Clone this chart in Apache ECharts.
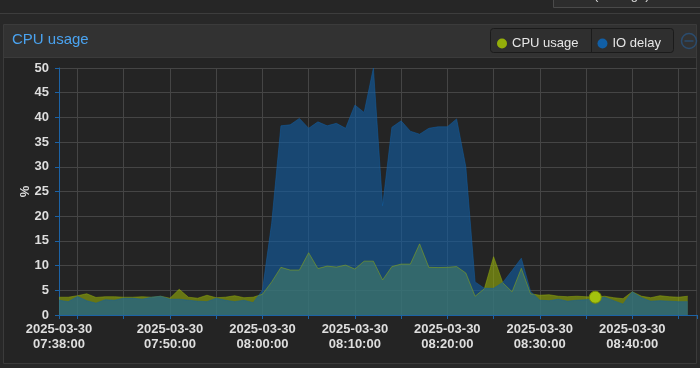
<!DOCTYPE html>
<html><head><meta charset="utf-8">
<script src="https://cdn.jsdelivr.net/npm/echarts@6/dist/echarts.min.js"></script>
<style>html,body{margin:0;padding:0;background:#282828;}#c{width:700px;height:368px;}</style>
</head><body><div id="c"></div>
<script>
const dateLabel = '2025-03-30';
const times = ['07:38','07:39','07:40','07:41','07:42','07:43','07:44','07:45','07:46','07:47',
  '07:48','07:49','07:50','07:51','07:52','07:53','07:54','07:55','07:56','07:57',
  '07:58','07:59','08:00','08:01','08:02','08:03','08:04','08:05','08:06','08:07',
  '08:08','08:09','08:10','08:11','08:12','08:13','08:14','08:15','08:16','08:17',
  '08:18','08:19','08:20','08:21','08:22','08:23','08:24','08:25','08:26','08:27',
  '08:28','08:29','08:30','08:31','08:32','08:33','08:34','08:35','08:36','08:37',
  '08:38','08:39','08:40','08:41','08:42','08:43','08:44','08:45','08:46','08:47'];
const cpuUsage = [3.6,3.6,3.9,4.3,3.55,3.7,3.7,3.6,3.6,3.7,
  3.6,3.8,3.4,5.2,3.6,3.4,4.0,3.5,3.6,3.9,
  3.5,3.6,4.2,6.7,9.65,9.1,9.1,12.6,9.4,9.9,
  9.7,10.1,9.3,10.9,10.9,7.1,9.8,10.3,10.3,14.4,
  9.65,9.6,9.65,9.8,8.5,3.8,5.3,11.8,6.5,4.7,
  9.45,4.3,4.0,4.1,3.8,3.7,3.8,3.7,3.6,3.8,
  3.5,3.3,4.7,3.8,3.5,3.9,3.7,3.6,3.8];
const ioDelay = [3.0,2.7,3.75,2.9,2.4,3.1,3.0,3.4,3.4,3.2,
  3.6,3.8,3.2,3.2,3.0,2.8,2.7,3.4,3.0,2.7,
  3.0,2.5,5.0,18.6,38.3,38.5,39.8,37.8,39.1,38.3,
  38.8,37.8,42.5,41.0,50.0,22.1,38.0,39.3,37.2,36.6,
  37.8,38.1,38.1,39.7,30.0,6.7,5.4,5.4,6.6,9.0,
  11.5,4.8,3.0,2.9,3.2,2.8,3.0,3.1,3.3,3.6,
  2.9,2.2,4.7,3.5,2.8,2.9,2.8,2.7,2.7];
const labelTimes = ['07:38','07:50','08:00','08:10','08:20','08:30','08:40'];
const tickTimes = ['07:38','07:40','07:45','07:50','07:55','08:00','08:05','08:10','08:15','08:20',
  '08:25','08:30','08:35','08:40','08:45','08:47'];
const gridTimes = ['07:40','07:45','07:50','07:55','08:00','08:05','08:10','08:15','08:20',
  '08:25','08:30','08:35','08:40','08:45'];
const highlightTime = '08:36';

const FONT = '"Liberation Sans", Arial, Helvetica, sans-serif';
const AXIS_BLUE = '#1c63a6';
const GRID_GRAY = '#454545';

const cpuData = cpuUsage.map((v, i) => times[i] === highlightTime
  ? {value: v, symbol: 'circle', symbolSize: 12,
     itemStyle: {color: '#a3c20e', borderColor: '#788c05', borderWidth: 1, opacity: 1}}
  : v);

const chart = echarts.init(document.getElementById('c'), null, {renderer: 'canvas'});
chart.setOption({
  animation: false,
  backgroundColor: '#282828',
  textStyle: {fontFamily: FONT},
  graphic: {elements: [
    {type: 'rect', shape: {x: 0, y: 0, width: 700, height: 13}, style: {fill: '#262626'}},
    {type: 'line', shape: {x1: 0, y1: 13.5, x2: 700, y2: 13.5}, style: {stroke: '#3d3d3d', lineWidth: 1}},
    {type: 'rect', shape: {x: 553.5, y: -20, width: 160, height: 27.5}, style: {fill: '#2d2d2d', stroke: '#4a4a4a', lineWidth: 1}},
    {type: 'text', x: 594, y: 2, style: {text: '(average)', fill: '#dddddd', font: '13px ' + FONT, verticalAlign: 'bottom'}},
    {type: 'rect', shape: {x: 3.5, y: 24.5, width: 693, height: 339}, style: {fill: '#242424', stroke: '#3b3b3b', lineWidth: 1}},
    {type: 'rect', shape: {x: 4, y: 25, width: 692, height: 32}, style: {fill: '#323232'}},
    {type: 'line', shape: {x1: 4, y1: 57.5, x2: 696, y2: 57.5}, style: {stroke: '#3b3b3b', lineWidth: 1}},
    {type: 'rect', shape: {x: 490.5, y: 28.5, width: 183, height: 24, r: 3}, style: {fill: '#2f2f2f', stroke: '#1b1b1b', lineWidth: 1}},
    {type: 'line', shape: {x1: 591.5, y1: 29, x2: 591.5, y2: 52}, style: {stroke: '#1b1b1b', lineWidth: 1}},
    {type: 'circle', shape: {cx: 689, cy: 41, r: 7.5}, style: {fill: 'none', stroke: '#2b4c6e', lineWidth: 1.5}},
    {type: 'line', shape: {x1: 684.5, y1: 41, x2: 693.5, y2: 41}, style: {stroke: '#2b4c6e', lineWidth: 1.5}}
  ]},
  title: {
    text: 'CPU usage', left: 12, top: 32, padding: 0,
    textStyle: {color: '#4aa3f0', fontSize: 15, fontWeight: 'normal', fontFamily: FONT}
  },
  legend: {
    data: ['CPU usage', 'IO delay'], left: 497, top: 37, padding: 0,
    icon: 'circle', itemWidth: 10, itemHeight: 10, itemGap: 19,
    textStyle: {color: '#e6e6e6', fontSize: 13, fontFamily: FONT}
  },
  grid: {left: 59, right: 3, top: 68, bottom: 53, containLabel: false, outerBoundsMode: 'none'},
  xAxis: {
    type: 'category', data: times, boundaryGap: false,
    axisLine: {show: true, lineStyle: {color: AXIS_BLUE, width: 1}},
    axisTick: {show: true, length: 4, interval: (i, v) => tickTimes.includes(v), lineStyle: {color: AXIS_BLUE}},
    axisLabel: {
      interval: (i, v) => labelTimes.includes(v),
      formatter: v => dateLabel + '\n' + v + ':00',
      color: '#dedede', fontSize: 13, fontWeight: 'bold', fontFamily: FONT, lineHeight: 15, margin: 7
    },
    splitLine: {show: true, interval: (i, v) => gridTimes.includes(v), lineStyle: {color: GRID_GRAY, width: 1}}
  },
  yAxis: {
    type: 'value', min: 0, max: 50, interval: 5,
    name: '%', nameLocation: 'middle', nameGap: 27, nameMoveOverlap: false,
    nameTextStyle: {color: '#dedede', fontSize: 13, fontWeight: 'bold', fontFamily: FONT},
    axisLine: {show: true, lineStyle: {color: AXIS_BLUE, width: 1}},
    axisTick: {show: true, length: 4, lineStyle: {color: AXIS_BLUE}},
    axisLabel: {color: '#dedede', fontSize: 13, fontWeight: 'bold', fontFamily: FONT, margin: 10},
    splitLine: {show: true, lineStyle: {color: GRID_GRAY, width: 1}}
  },
  series: [
    {
      name: 'CPU usage', type: 'line', data: cpuData, color: '#94ae0a',
      symbol: 'none', showAllSymbol: true, silent: true,
      lineStyle: {width: 1, opacity: 0.5},
      areaStyle: {opacity: 0.6}
    },
    {
      name: 'IO delay', type: 'line', data: ioDelay, color: '#115fa6',
      symbol: 'none', showAllSymbol: true, silent: true,
      lineStyle: {width: 1, opacity: 0.5},
      areaStyle: {opacity: 0.6}
    }
  ]
});
</script>
</body></html>
